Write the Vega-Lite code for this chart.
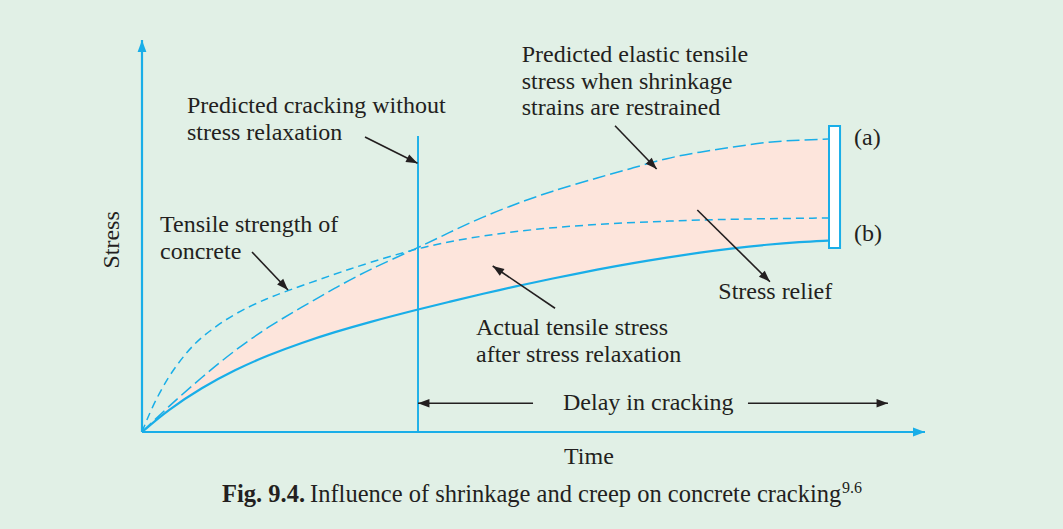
{
  "$schema": "https://vega.github.io/schema/vega-lite/v6.json",
  "width": 783,
  "height": 392,
  "autosize": {"type": "none"},
  "padding": {"left": 142, "top": 40, "right": 138, "bottom": 97},
  "background": "#e1f0e6",
  "config": {"view": {"stroke": null}},
  "datasets": {
    "curves": [
      {"series": "elastic", "t": 0, "s": 0},
      {"series": "elastic", "t": 3.32, "s": 6.38},
      {"series": "elastic", "t": 7.66, "s": 14.03},
      {"series": "elastic", "t": 11.88, "s": 20.92},
      {"series": "elastic", "t": 16.09, "s": 26.79},
      {"series": "elastic", "t": 20.43, "s": 31.89},
      {"series": "elastic", "t": 24.65, "s": 36.73},
      {"series": "elastic", "t": 28.86, "s": 41.3},
      {"series": "elastic", "t": 35.25, "s": 47.0},
      {"series": "elastic", "t": 39.34, "s": 51.0},
      {"series": "elastic", "t": 43.55, "s": 54.9},
      {"series": "elastic", "t": 47.89, "s": 58.3},
      {"series": "elastic", "t": 52.11, "s": 61.3},
      {"series": "elastic", "t": 58.49, "s": 65.05},
      {"series": "elastic", "t": 62.71, "s": 67.35},
      {"series": "elastic", "t": 67.05, "s": 69.9},
      {"series": "elastic", "t": 71.26, "s": 71.43},
      {"series": "elastic", "t": 75.48, "s": 72.7},
      {"series": "elastic", "t": 79.82, "s": 73.98},
      {"series": "elastic", "t": 84.04, "s": 74.49},
      {"series": "elastic", "t": 87.61, "s": 74.74},
      {"series": "actual", "t": 0, "s": 0},
      {"series": "actual", "t": 3.32, "s": 5.64},
      {"series": "actual", "t": 7.66, "s": 11.35},
      {"series": "actual", "t": 11.88, "s": 15.89},
      {"series": "actual", "t": 16.09, "s": 19.59},
      {"series": "actual", "t": 20.43, "s": 22.81},
      {"series": "actual", "t": 24.65, "s": 25.51},
      {"series": "actual", "t": 28.86, "s": 27.96},
      {"series": "actual", "t": 35.25, "s": 31.28},
      {"series": "actual", "t": 39.34, "s": 33.27},
      {"series": "actual", "t": 43.55, "s": 35.26},
      {"series": "actual", "t": 47.89, "s": 37.22},
      {"series": "actual", "t": 52.11, "s": 39.03},
      {"series": "actual", "t": 58.49, "s": 41.58},
      {"series": "actual", "t": 62.71, "s": 43.09},
      {"series": "actual", "t": 67.05, "s": 44.52},
      {"series": "actual", "t": 71.26, "s": 45.79},
      {"series": "actual", "t": 75.48, "s": 46.89},
      {"series": "actual", "t": 79.82, "s": 47.81},
      {"series": "actual", "t": 84.04, "s": 48.47},
      {"series": "actual", "t": 87.61, "s": 48.83},
      {"series": "tensile", "t": 0, "s": 0},
      {"series": "tensile", "t": 1.28, "s": 6.38},
      {"series": "tensile", "t": 3.32, "s": 14.03},
      {"series": "tensile", "t": 5.49, "s": 19.9},
      {"series": "tensile", "t": 7.66, "s": 24.49},
      {"series": "tensile", "t": 11.88, "s": 30.36},
      {"series": "tensile", "t": 16.09, "s": 34.18},
      {"series": "tensile", "t": 18.65, "s": 36.1},
      {"series": "tensile", "t": 24.65, "s": 40.31},
      {"series": "tensile", "t": 28.86, "s": 43.11},
      {"series": "tensile", "t": 35.25, "s": 46.94},
      {"series": "tensile", "t": 41.51, "s": 49.49},
      {"series": "tensile", "t": 49.94, "s": 51.79},
      {"series": "tensile", "t": 58.49, "s": 53.06},
      {"series": "tensile", "t": 67.05, "s": 53.83},
      {"series": "tensile", "t": 75.48, "s": 54.34},
      {"series": "tensile", "t": 87.61, "s": 54.59}
    ],
    "rules": [
      {"kind": "axis", "t": 0, "s": 0, "t2": 100, "s2": 0},
      {"kind": "axis", "t": 0, "s": 0, "t2": 0, "s2": 100},
      {"kind": "crack", "t": 35.25, "s": 0, "t2": 35.25, "s2": 75.5},
      {"kind": "pointer", "t": 28.48, "s": 75.26, "t2": 35.19, "s2": 68.55},
      {"kind": "pointer", "t": 60.41, "s": 78.14, "t2": 65.73, "s2": 67.09},
      {"kind": "pointer", "t": 14.05, "s": 45.92, "t2": 18.65, "s2": 36.22},
      {"kind": "pointer", "t": 52.75, "s": 31.56, "t2": 44.79, "s2": 42.35},
      {"kind": "pointer", "t": 70.92, "s": 56.63, "t2": 80.2, "s2": 38.34},
      {"kind": "pointer", "t": 49.94, "s": 7.32, "t2": 35.25, "s2": 7.32},
      {"kind": "pointer", "t": 77.39, "s": 7.32, "t2": 95.27, "s2": 7.32}
    ],
    "heads": [
      {"kind": "axis", "t": 100, "s": 0, "angle": 90},
      {"kind": "axis", "t": 0, "s": 100, "angle": 0},
      {"kind": "pointer", "t": 35.19, "s": 68.55, "angle": 116.6},
      {"kind": "pointer", "t": 65.73, "s": 67.09, "angle": 136.1},
      {"kind": "pointer", "t": 18.65, "s": 36.22, "angle": 136.5},
      {"kind": "pointer", "t": 44.79, "s": 42.35, "angle": 304.2},
      {"kind": "pointer", "t": 80.2, "s": 38.34, "angle": 134.6},
      {"kind": "pointer", "t": 35.25, "s": 7.32, "angle": 270},
      {"kind": "pointer", "t": 95.27, "s": 7.32, "angle": 90}
    ],
    "bracket": [{"t": 87.74, "t2": 89.15, "s": 46.94, "s2": 78.06}],
    "labels": [
      {"text": "Predicted cracking without", "t": 5.75, "s": 81.3},
      {"text": "stress relaxation", "t": 5.75, "s": 74.49},
      {"text": "Predicted elastic tensile", "t": 48.49, "s": 94.31},
      {"text": "stress when shrinkage", "t": 48.49, "s": 87.42},
      {"text": "strains are restrained", "t": 48.49, "s": 80.87},
      {"text": "Tensile strength of", "t": 2.3, "s": 50.94},
      {"text": "concrete", "t": 2.3, "s": 44.05},
      {"text": "Actual tensile stress", "t": 42.66, "s": 24.74},
      {"text": "after stress relaxation", "t": 42.66, "s": 17.94},
      {"text": "Stress relief", "t": 73.6, "s": 33.85},
      {"text": "(a)", "t": 90.93, "s": 73.21},
      {"text": "(b)", "t": 90.93, "s": 48.8},
      {"text": "Delay in cracking", "t": 53.77, "s": 5.61},
      {"text": "Time", "t": 53.9, "s": -8.16}
    ],
    "ylabel": [{"text": "Stress", "t": -2.95, "s": 49.0}],
    "capbold": [{"text": "Fig. 9.4.", "t": 10.22, "s": -17.86}],
    "capreg": [{"text": "Influence of shrinkage and creep on concrete cracking", "t": 21.46, "s": -17.86}],
    "capsup": [{"text": "9.6", "t": 89.4, "s": -15.6}]
  },
  "layer": [
    {
      "data": {"name": "curves"},
      "transform": [
        {"filter": "datum.series !== 'tensile'"},
        {"pivot": "series", "value": "s", "groupby": ["t"]}
      ],
      "mark": {"type": "area", "interpolate": "basis", "color": "#fde5dc"},
      "encoding": {
        "x": {"field": "t", "type": "quantitative", "scale": {"domain": [0, 100], "nice": false, "zero": false}, "axis": null},
        "y": {"field": "elastic", "type": "quantitative", "scale": {"domain": [0, 100], "nice": false, "zero": false}, "axis": null},
        "y2": {"field": "actual"}
      }
    },
    {
      "data": {"name": "curves"},
      "transform": [{"filter": "datum.series === 'elastic'"}],
      "mark": {"type": "line", "interpolate": "basis", "color": "#19aee8", "strokeWidth": 1.5, "strokeDash": [13, 5]},
      "encoding": {
        "x": {"field": "t", "type": "quantitative", "scale": {"domain": [0, 100], "nice": false, "zero": false}, "axis": null},
        "y": {"field": "s", "type": "quantitative", "scale": {"domain": [0, 100], "nice": false, "zero": false}, "axis": null}
      }
    },
    {
      "data": {"name": "curves"},
      "transform": [{"filter": "datum.series === 'tensile'"}],
      "mark": {"type": "line", "interpolate": "basis", "color": "#19aee8", "strokeWidth": 1.5, "strokeDash": [8, 5]},
      "encoding": {
        "x": {"field": "t", "type": "quantitative", "scale": {"domain": [0, 100], "nice": false, "zero": false}, "axis": null},
        "y": {"field": "s", "type": "quantitative", "scale": {"domain": [0, 100], "nice": false, "zero": false}, "axis": null}
      }
    },
    {
      "data": {"name": "curves"},
      "transform": [{"filter": "datum.series === 'actual'"}],
      "mark": {"type": "line", "interpolate": "basis", "color": "#19aee8", "strokeWidth": 2.2},
      "encoding": {
        "x": {"field": "t", "type": "quantitative", "scale": {"domain": [0, 100], "nice": false, "zero": false}, "axis": null},
        "y": {"field": "s", "type": "quantitative", "scale": {"domain": [0, 100], "nice": false, "zero": false}, "axis": null}
      }
    },
    {
      "data": {"name": "rules"},
      "mark": {"type": "rule"},
      "encoding": {
        "x": {"field": "t", "type": "quantitative", "scale": {"domain": [0, 100], "nice": false, "zero": false}, "axis": null},
        "y": {"field": "s", "type": "quantitative", "scale": {"domain": [0, 100], "nice": false, "zero": false}, "axis": null},
        "x2": {"field": "t2"},
        "y2": {"field": "s2"},
        "color": {"field": "kind", "type": "nominal", "scale": {"domain": ["axis", "crack", "pointer"], "range": ["#19aee8", "#19aee8", "#231f20"]}, "legend": null},
        "strokeWidth": {"field": "kind", "type": "ordinal", "scale": {"domain": ["axis", "crack", "pointer"], "range": [2.2, 1.6, 1.3]}, "legend": null}
      }
    },
    {
      "data": {"name": "bracket"},
      "mark": {"type": "rect", "fill": "#ffffff", "stroke": "#19aee8", "strokeWidth": 2},
      "encoding": {
        "x": {"field": "t", "type": "quantitative", "scale": {"domain": [0, 100], "nice": false, "zero": false}, "axis": null},
        "x2": {"field": "t2"},
        "y": {"field": "s", "type": "quantitative", "scale": {"domain": [0, 100], "nice": false, "zero": false}, "axis": null},
        "y2": {"field": "s2"}
      }
    },
    {
      "data": {"name": "heads"},
      "mark": {"type": "point", "shape": "M0,0L1.1,3L-1.1,3Z", "filled": true, "opacity": 1, "strokeWidth": 0},
      "encoding": {
        "x": {"field": "t", "type": "quantitative", "scale": {"domain": [0, 100], "nice": false, "zero": false}, "axis": null},
        "y": {"field": "s", "type": "quantitative", "scale": {"domain": [0, 100], "nice": false, "zero": false}, "axis": null},
        "angle": {"field": "angle", "type": "quantitative", "scale": null},
        "color": {"field": "kind", "type": "nominal", "scale": {"domain": ["axis", "crack", "pointer"], "range": ["#19aee8", "#19aee8", "#231f20"]}, "legend": null},
        "size": {"field": "kind", "type": "ordinal", "scale": {"domain": ["axis", "pointer"], "range": [64, 58]}, "legend": null}
      }
    },
    {
      "data": {"name": "labels"},
      "mark": {"type": "text", "align": "left", "baseline": "alphabetic", "font": "Liberation Serif", "fontSize": 24, "color": "#231f20"},
      "encoding": {
        "x": {"field": "t", "type": "quantitative", "scale": {"domain": [0, 100], "nice": false, "zero": false}, "axis": null},
        "y": {"field": "s", "type": "quantitative", "scale": {"domain": [0, 100], "nice": false, "zero": false}, "axis": null},
        "text": {"field": "text"}
      }
    },
    {
      "data": {"name": "ylabel"},
      "mark": {"type": "text", "align": "center", "baseline": "alphabetic", "angle": 270, "font": "Liberation Serif", "fontSize": 24, "color": "#231f20"},
      "encoding": {
        "x": {"field": "t", "type": "quantitative", "scale": {"domain": [0, 100], "nice": false, "zero": false}, "axis": null},
        "y": {"field": "s", "type": "quantitative", "scale": {"domain": [0, 100], "nice": false, "zero": false}, "axis": null},
        "text": {"field": "text"}
      }
    },
    {
      "data": {"name": "capbold"},
      "mark": {"type": "text", "align": "left", "baseline": "alphabetic", "font": "Liberation Serif", "fontSize": 24.5, "fontWeight": "bold", "color": "#231f20"},
      "encoding": {
        "x": {"field": "t", "type": "quantitative", "scale": {"domain": [0, 100], "nice": false, "zero": false}, "axis": null},
        "y": {"field": "s", "type": "quantitative", "scale": {"domain": [0, 100], "nice": false, "zero": false}, "axis": null},
        "text": {"field": "text"}
      }
    },
    {
      "data": {"name": "capreg"},
      "mark": {"type": "text", "align": "left", "baseline": "alphabetic", "font": "Liberation Serif", "fontSize": 24.5, "color": "#231f20"},
      "encoding": {
        "x": {"field": "t", "type": "quantitative", "scale": {"domain": [0, 100], "nice": false, "zero": false}, "axis": null},
        "y": {"field": "s", "type": "quantitative", "scale": {"domain": [0, 100], "nice": false, "zero": false}, "axis": null},
        "text": {"field": "text"}
      }
    },
    {
      "data": {"name": "capsup"},
      "mark": {"type": "text", "align": "left", "baseline": "alphabetic", "font": "Liberation Serif", "fontSize": 16, "color": "#231f20"},
      "encoding": {
        "x": {"field": "t", "type": "quantitative", "scale": {"domain": [0, 100], "nice": false, "zero": false}, "axis": null},
        "y": {"field": "s", "type": "quantitative", "scale": {"domain": [0, 100], "nice": false, "zero": false}, "axis": null},
        "text": {"field": "text"}
      }
    }
  ]
}
